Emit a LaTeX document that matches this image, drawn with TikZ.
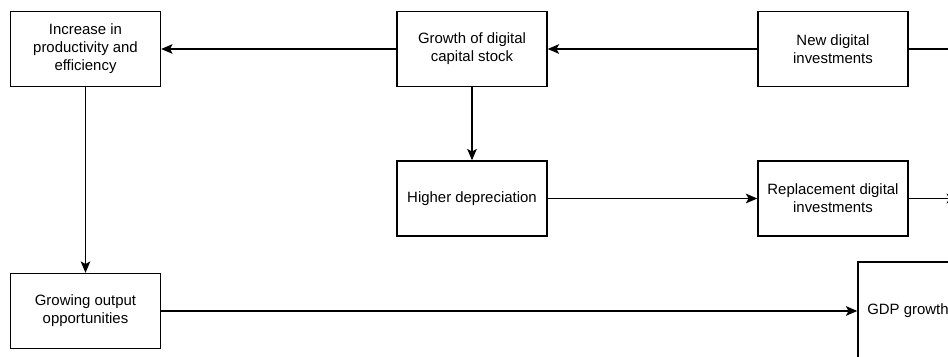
\documentclass[tikz,border=0pt]{standalone}
\usepackage{fontspec}
\setmainfont{Liberation Sans}
\usetikzlibrary{arrows.meta}
\tikzset{
    box/.style={draw,line width=0.8pt,align=center,inner sep=0pt,
        minimum width=3cm,minimum height=1.5cm,
        font=\fontsize{8.5}{10.2}\selectfont},
    link/.style={line width=0.8pt,-{Stealth[length=6.5pt,width=5.5pt,inset=1.5pt]}},
}
\begin{document}
\begin{tikzpicture}[x=0.02cm,y=-0.02cm]
        %% frame
        \useasboundingbox (0,0) rectangle (948,356);
        \clip (0,0) rectangle (948,356);
        %% boxes
        \node[box] (incr) at (85.5,49) {Increase in\\productivity and\\efficiency};
        \node[box] (growth) at (472,49) {Growth of digital\\capital stock};
        \node[box] (newinv) at (833,49) {New digital\\investments};
        \node[box] (highdep) at (472,198.5) {Higher depreciation};
        \node[box] (replinv) at (833,198.5) {Replacement digital\\investments};
        \node[box] (output) at (85.5,311) {Growing output\\opportunities};
        \node[box,minimum width=2cm,minimum height=1.96cm] (gdp) at (908,311) {GDP growth};
        %% loose ends
        \coordinate (newout) at (990,49);
        \coordinate (replout) at (958,198.5);
        %% links
        \draw[link] (newinv) -- (growth);
        \draw[link] (growth) -- (incr);
        \draw[link] (growth) -- (highdep);
        \draw[link] (highdep) -- (replinv);
        \draw[link] (incr) -- (output);
        \draw[link] (output) -- (gdp);
        \draw[line width=0.8pt] (newinv) -- (newout);
        \draw[link] (replinv) -- (replout);
    \end{tikzpicture}
\end{document}
